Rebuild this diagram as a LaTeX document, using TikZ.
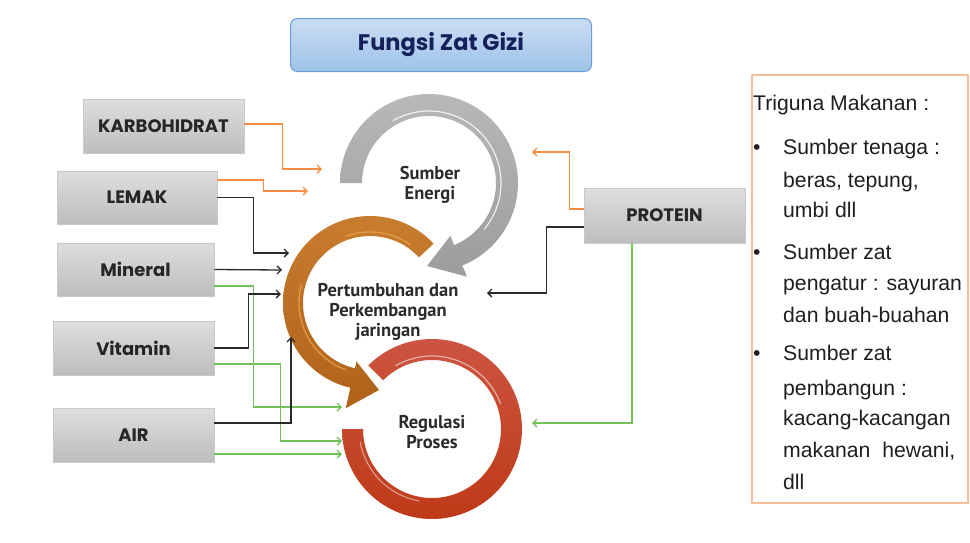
\documentclass[tikz,border=0pt]{standalone}
\usepackage{fontspec}
\setmainfont{Liberation Sans}
\newfontfamily\boxfont{Poppins}
\newfontfamily\ringfont{PT Sans}
\newfontfamily\titlefont{Poppins}
\usetikzlibrary{arrows.meta,calc}
\definecolor{boxtop}{HTML}{DEDEDE}
\definecolor{boxbot}{HTML}{BDBDBD}
\definecolor{boxline}{HTML}{C9C9C9}
\definecolor{orangeL}{HTML}{F58D45}
\definecolor{greenL}{HTML}{74C05A}
\definecolor{blackL}{HTML}{2A2A2A}
\definecolor{grayTop}{HTML}{B8B8B8}
\definecolor{grayBot}{HTML}{9C9C9C}
\definecolor{orTop}{HTML}{C77C2E}
\definecolor{orBot}{HTML}{B0621A}
\definecolor{orHi}{HTML}{E9A64E}
\definecolor{redTop}{HTML}{CC5440}
\definecolor{redBot}{HTML}{BE3A18}
\definecolor{titleTop}{HTML}{CADDF3}
\definecolor{titleBot}{HTML}{9EC2E8}
\definecolor{titleLine}{HTML}{6A9FD8}
\definecolor{titleText}{HTML}{14215A}
\definecolor{infoLine}{HTML}{F6BE9A}
\definecolor{ringText}{HTML}{2B2B2B}
\tikzset{
  foodbox/.style={draw=boxline, line width=0.7pt, top color=boxtop, bottom color=boxbot,
    minimum width=160pt, minimum height=53pt, inner sep=0pt,
    font=\boxfont\bfseries\fontsize{18}{20}\selectfont, text=black!85},
  conn/.style={line width=1.3pt, -{Straight Barb[length=4pt,width=8pt]}},
  ringlabel/.style={font=\ringfont\bfseries\fontsize{18.5}{20}\selectfont, text=ringText, align=center, inner sep=0pt},
  infotext/.style={anchor=base west, inner sep=0pt, font=\fontsize{21.2}{26}\selectfont, text=black!88}
}
\begin{document}
\begin{tikzpicture}[x=1pt,y=-1pt]
\useasboundingbox (0,0) rectangle (970,542);
\fill[white] (0,0) rectangle (970,542);

% title
\node[draw=titleLine, line width=1pt, rounded corners=7pt, top color=titleTop, bottom color=titleBot,
  minimum width=301pt, minimum height=53pt, font=\titlefont\bfseries\fontsize{22.5}{24}\selectfont, text=titleText]
  (title) at (441,45) {Fungsi Zat Gizi};

% rings
% gray
\shade[top color=grayTop, bottom color=grayBot]
  plot[domain=180:428,samples=90] ({429+89*cos(\x)},{183+89*sin(\x)})
  -- ({429+101*cos(428)},{183+101*sin(428)}) -- (427,266)
  -- ({429+57*cos(428)},{183+57*sin(428)})
  -- plot[domain=428:180,samples=90] ({429+67*cos(\x)},{183+67*sin(\x)}) -- cycle;
\draw[white, opacity=0.8, line width=1.2pt] plot[domain=240:400,samples=60] ({429+72*cos(\x)},{183+72*sin(\x)});
% orange
\shade[top color=orTop, bottom color=orBot]
  plot[domain=-43:-257,samples=90] ({370+87*cos(\x)},{303+87*sin(\x)})
  -- ({370+108*cos(-257)},{303+108*sin(-257)}) -- (379,390)
  -- ({370+60*cos(-257)},{303+60*sin(-257)})
  -- plot[domain=-257:-43,samples=90] ({370+67*cos(\x)},{303+67*sin(\x)}) -- cycle;
\draw[orHi, opacity=0.8, line width=1.3pt] plot[domain=-55:-110,samples=40] ({370+71*cos(\x)},{303+71*sin(\x)});
\draw[orHi, opacity=0.8, line width=1.3pt] plot[domain=-165:-250,samples=40] ({370+71*cos(\x)},{303+71*sin(\x)});
% red
\shade[top color=redTop, bottom color=redBot]
  plot[domain=-135:180,samples=120] ({432+90*cos(\x)},{429+90*sin(\x)})
  -- plot[domain=180:-135,samples=120] ({432+69*cos(\x)},{429+69*sin(\x)}) -- cycle;
\draw[white, opacity=0.55, line width=1.2pt] plot[domain=-120:-20,samples=50] ({432+73*cos(\x)},{429+73*sin(\x)});
\draw[white, opacity=0.45, line width=1.2pt] plot[domain=100:170,samples=50] ({432+73*cos(\x)},{429+73*sin(\x)});

% ring labels
\node[ringlabel] (energi) at (430,185) {Sumber\\Energi};
\node[ringlabel] (tumbuh) at (388,312) {Pertumbuhan dan\\Perkembangan\\jaringan};
\node[ringlabel] (regulasi) at (432,432) {Regulasi\\Proses};

% food boxes
\node[foodbox, minimum width=161pt, minimum height=54pt] (karbo) at (163.5,126) {KARBOHIDRAT};
\node[foodbox] (lemak) at (137,197.5) {LEMAK};
\node[foodbox, minimum width=157pt] (mineral) at (135.5,269.5) {Mineral};
\node[foodbox, minimum width=161pt, minimum height=54pt] (vitamin) at (133.5,348) {Vitamin};
\node[foodbox, minimum width=161pt, minimum height=54pt] (air) at (133.5,435) {AIR};
\node[foodbox, minimum width=161pt, minimum height=55pt] (protein) at (664.5,215.5) {PROTEIN};

% arrow end points
\coordinate (eK) at (322,169);
\coordinate (eLo) at (308,191);
\coordinate (eLb) at (289,253);
\coordinate (eMb) at (282,270);
\coordinate (eMg) at (342,407);
\coordinate (eVb) at (281,294);
\coordinate (eVg) at (342,441);
\coordinate (eAb) at (291,337);
\coordinate (eAg) at (342,454);
\coordinate (ePo) at (532,152);
\coordinate (ePb) at (487,293);
\coordinate (ePg) at (532,423);

% connectors
\draw[conn, orangeL] (karbo.east |- 0,124) -- ++(38,0) |- (eK);
\draw[conn, orangeL] (lemak.east |- 0,180) -- ++(46,0) |- (eLo);
\draw[conn, blackL] (lemak.east) -- ++(36,0) |- (eLb);
\draw[conn, blackL] (mineral.east) -- (eMb);
\draw[conn, greenL] (mineral.east |- 0,286) -- ++(39,0) |- (eMg);
\draw[conn, blackL] (vitamin.east) -- ++(34,0) |- (eVb);
\draw[conn, greenL] (vitamin.east |- 0,364) -- ++(66,0) |- (eVg);
\draw[conn, blackL] (air.east |- 0,423) -| (eAb);
\draw[conn, greenL] (air.east |- 0,454) -- (eAg);
\draw[conn, orangeL] (protein.west |- 0,209) -- ++(-14,0) |- (ePo);
\draw[conn, blackL] (protein.west |- 0,227) -- ++(-37,0) |- (ePb);
\draw[conn, greenL] (protein.south -| 632,0) |- (ePg);

% info box
\node[draw=infoLine, line width=1.2pt, minimum width=216pt, minimum height=428pt, inner sep=0pt] (info) at (860,289) {};
\node[infotext] (t0) at (753,110) {Triguna Makanan :};
\node[infotext] (b1) at (753,154) {•};
\node[infotext] (t1) at (783,154) {Sumber tenaga :};
\node[infotext] (t2) at (783,187) {beras, tepung,};
\node[infotext] (t3) at (783,217) {umbi dll};
\node[infotext] (b2) at (753,259) {•};
\node[infotext] (t4) at (783,259) {Sumber zat};
\node[infotext] (t5) at (783,290) {pengatur : sayuran};
\node[infotext] (t6) at (783,322) {dan buah-buahan};
\node[infotext] (b3) at (753,360) {•};
\node[infotext] (t7) at (783,360) {Sumber zat};
\node[infotext] (t8) at (783,395) {pembangun :};
\node[infotext] (t9) at (783,425) {kacang-kacangan};
\node[infotext] (t10) at (783,457) {makanan\hspace{6pt} hewani,};
\node[infotext] (t11) at (783,489) {dll};
\end{tikzpicture}
\end{document}
